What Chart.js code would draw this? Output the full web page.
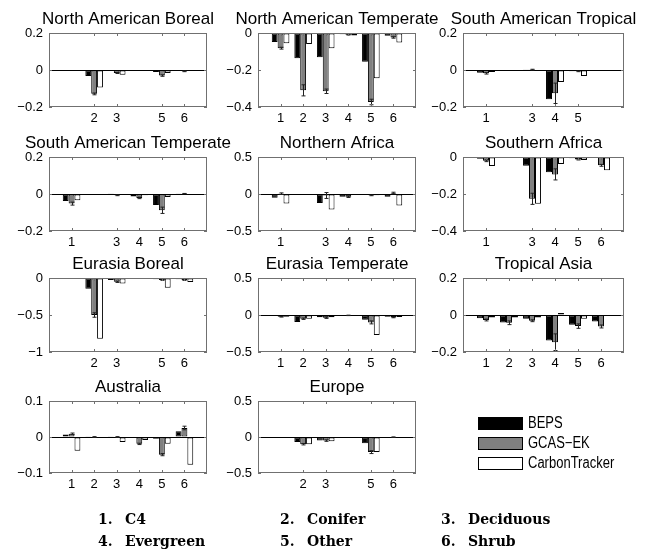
<!DOCTYPE html>
<html lang="en">
<head>
<meta charset="UTF-8">
<title>Regional flux by plant functional type</title>
<script src="https://cdn.jsdelivr.net/npm/chart.js"></script>
<style>
  body {
    margin: 0;
    width: 651px;
    height: 551px;
    overflow: hidden;
    position: relative;
    background: #fff;
    font-family: 'Liberation Sans', Arial, sans-serif;
  }
  canvas { position: absolute; }
  .leg {
    position: absolute;
    font-size: 13px;
    line-height: 14px;
    color: #000;
    transform: scaleY(1.2);
    transform-origin: left center;
  }
  .sw { position: absolute; width: 43px; height: 11px; border: 1px solid #000; }
  .pft {
    position: absolute;
    font-family: 'DejaVu Serif', 'Liberation Serif', serif;
    font-weight: bold;
    font-size: 14px;
    line-height: 16px;
    color: #000;
  }
</style>
</head>
<body>
<script>
  // regions, one panel each
  const regions = ['North American Boreal', 'North American Temperate', 'South American Tropical',
    'South American Temperate', 'Northern Africa', 'Southern Africa',
    'Eurasia Boreal', 'Eurasia Temperate', 'Tropical Asia',
    'Australia', 'Europe'];
  const pftNames = ['C4', 'Conifer', 'Deciduous', 'Evergreen', 'Other', 'Shrub'];
  const seriesNames = ['BEPS', 'GCAS\u2212EK', 'CarbonTracker'];

  // PFT numbers labelled on each panel's x axis
  const shownPft = [[2,3,5,6], [1,2,3,4,5,6], [1,3,4,5], [1,3,4,5,6], [1,3,4,5,6], [1,3,4,5,6],
    [2,3,5,6], [1,2,3,4,5,6], [1,2,3,4,5,6], [1,2,3,4,5,6], [2,3,5,6]];

  // values per region, PFT 1..6 (null = no bar)
  const beps = [
    [null, -0.033, -0.004, null, -0.011, -0.005],
    [-0.049, -0.136, -0.131, -0.007, -0.155, -0.015],
    [-0.015, null, 0.004, -0.158, -0.007, null],
    [-0.038, null, 0.002, -0.014, -0.060, 0.002],
    [-0.050, null, -0.120, -0.037, -0.014, -0.037],
    [-0.009, null, -0.047, -0.083, -0.007, -0.004],
    [null, -0.145, -0.027, null, -0.018, -0.018],
    [-0.014, -0.095, -0.032, -0.005, -0.064, -0.023],
    [-0.018, -0.040, -0.020, -0.138, -0.053, -0.035],
    [0.007, 0.001, 0.002, -0.003, -0.005, 0.016],
    [null, -0.069, -0.050, null, -0.087, -0.001]
  ];
  const gcasEk = [
    [null, -0.129, -0.016, null, -0.030, -0.007],
    [-0.082, -0.310, -0.315, -0.009, -0.373, -0.024],
    [-0.018, null, 0.002, -0.126, -0.007, null],
    [-0.052, null, -0.007, -0.021, -0.088, 0.002],
    [0.005, null, -0.020, -0.037, -0.018, 0.014],
    [-0.020, null, -0.226, -0.094, -0.013, -0.045],
    [null, -0.500, -0.050, null, -0.027, -0.027],
    [-0.023, -0.050, -0.036, -0.005, -0.100, -0.032],
    [-0.027, -0.042, -0.031, -0.147, -0.060, -0.062],
    [0.009, 0.000, 0.000, -0.019, -0.049, 0.025],
    [null, -0.100, -0.050, null, -0.210, -0.002]
  ];
  const gcasEkErr = [
    [null, 0.005, 0.003, null, 0.004, 0.002],
    [0.005, 0.030, 0.012, 0.002, 0.015, 0.004],
    [0.004, null, 0.002, 0.055, 0.002, null],
    [0.008, null, 0.002, 0.004, 0.017, 0.001],
    [0.010, null, 0.040, 0.010, 0.005, 0.010],
    [0.005, null, 0.030, 0.030, 0.003, 0.005],
    [null, 0.030, 0.010, null, 0.005, 0.005],
    [0.005, 0.010, 0.010, 0.003, 0.020, 0.005],
    [0.005, 0.010, 0.005, 0.045, 0.012, 0.008],
    [0.002, 0.001, 0.001, 0.002, 0.003, 0.005],
    [null, 0.010, 0.010, null, 0.020, 0.003]
  ];
  const carbonTracker = [
    [null, -0.095, -0.025, null, -0.016, -0.004],
    [-0.055, -0.060, -0.082, -0.013, -0.245, -0.051],
    [-0.011, null, 0.000, -0.065, -0.033, null],
    [-0.034, null, -0.002, -0.007, -0.016, 0.000],
    [-0.130, null, -0.210, -0.009, -0.018, -0.157],
    [-0.049, null, -0.253, -0.038, -0.016, -0.072],
    [null, -0.820, -0.073, null, -0.132, -0.055],
    [-0.023, -0.050, -0.032, -0.005, -0.270, -0.027],
    [-0.013, -0.013, -0.013, 0.011, -0.020, -0.004],
    [-0.038, 0.000, -0.014, -0.008, -0.019, -0.077],
    [null, -0.100, -0.060, null, -0.210, -0.002]
  ];

  // y axis ticks per panel (first and last are the limits)
  const yTicks = [
    [-0.2, 0, 0.2], [-0.4, -0.2, 0], [-0.2, 0, 0.2],
    [-0.2, 0, 0.2], [-0.5, 0, 0.5], [-0.4, -0.2, 0],
    [-1, -0.5, 0], [-0.5, 0, 0.5], [-0.2, 0, 0.2],
    [-0.1, 0, 0.1], [-0.5, 0, 0.5]
  ];

  // panel grid (plot area boxes)
  const colLeft = [49, 258, 463];
  const colWidth = [158, 158, 161];
  const rowTop = [33, 157, 278, 401];
  const rowHeight = [74, 74, 74, 72];
  const AXW = 45, TITLEH = 30, XAXH = 22;

  const fillColors = ['#000000', '#808080', '#ffffff'];
  const fontFamily = "'Liberation Sans', Arial, sans-serif";

  const fmt = v => String(v).replace('-', '\u2212');

  // box, inward ticks and GCAS-EK error bars
  const matlabBox = {
    id: 'matlabBox',
    afterDatasetsDraw(chart) {
      const { ctx, chartArea: a, scales: { x, y } } = chart;
      ctx.save();
      ctx.lineWidth = 1;

      ctx.strokeStyle = '#222';
      const meta = chart.getDatasetMeta(1);
      const pts = chart.data.datasets[1].data;
      meta.data.forEach((el, j) => {
        const p = pts[j];
        if (!p.err) return;
        const cx = Math.round(el.x) + 0.5;
        const y1 = y.getPixelForValue(p.y - p.err);
        const y2 = y.getPixelForValue(p.y + p.err);
        ctx.beginPath();
        ctx.moveTo(cx, y1); ctx.lineTo(cx, y2);
        ctx.moveTo(cx - 2, y1); ctx.lineTo(cx + 2, y1);
        ctx.moveTo(cx - 2, y2); ctx.lineTo(cx + 2, y2);
        ctx.stroke();
      });

      ctx.strokeStyle = '#707070';
      ctx.strokeRect(a.left + 0.5, a.top + 0.5, a.width - 1, a.height - 1);
      ctx.beginPath();
      x.ticks.forEach(t => {
        const px = Math.round(x.getPixelForValue(t.value)) + 0.5;
        ctx.moveTo(px, a.bottom); ctx.lineTo(px, a.bottom - 3);
        ctx.moveTo(px, a.top); ctx.lineTo(px, a.top + 3);
      });
      y.ticks.forEach(t => {
        const py = Math.round(y.getPixelForValue(t.value)) + 0.5;
        ctx.moveTo(a.left, py); ctx.lineTo(a.left + 3, py);
        ctx.moveTo(a.right, py); ctx.lineTo(a.right - 3, py);
      });
      ctx.stroke();
      ctx.restore();
    }
  };

  function toPoints(values, errs) {
    const out = [];
    values.forEach((v, k) => {
      if (v === null) return;
      out.push({ x: k + 1, y: v, err: errs ? errs[k] : 0 });
    });
    return out;
  }

  regions.forEach((name, i) => {
    const col = i % 3, row = Math.floor(i / 3);
    const pw = colWidth[col], ph = rowHeight[row];
    const cv = document.createElement('canvas');
    cv.width = pw + 2 * AXW;
    cv.height = ph + TITLEH + XAXH;
    cv.style.left = (colLeft[col] - AXW) + 'px';
    cv.style.top = (rowTop[row] - TITLEH) + 'px';
    document.body.appendChild(cv);

    const ticksY = yTicks[i];
    new Chart(cv, {
      type: 'bar',
      data: {
        datasets: [beps[i], gcasEk[i], carbonTracker[i]].map((vals, s) => ({
          label: seriesNames[s],
          data: toPoints(vals, s === 1 ? gcasEkErr[i] : null),
          backgroundColor: fillColors[s],
          borderColor: '#000',
          borderWidth: 1,
          borderSkipped: false
        }))
      },
      options: {
        responsive: false,
        animation: false,
        events: [],
        layout: { padding: 0 },
        datasets: { bar: { barPercentage: 1, categoryPercentage: 0.78 } },
        plugins: {
          legend: { display: false },
          tooltip: { enabled: false },
          title: {
            display: true,
            text: name,
            color: '#000',
            font: { family: fontFamily, size: 17, weight: 'normal', lineHeight: '20px' },
            padding: { top: 6, bottom: 4 }
          }
        },
        scales: {
          x: {
            type: 'linear',
            offset: false,
            min: 0,
            max: 7,
            grid: { display: false, drawTicks: false },
            border: { display: false },
            afterBuildTicks: s => { s.ticks = shownPft[i].map(v => ({ value: v })); },
            afterFit: s => { s.height = XAXH; },
            ticks: {
              color: '#000',
              padding: 4,
              maxRotation: 0,
              font: { family: fontFamily, size: 13 }
            }
          },
          y: {
            min: ticksY[0],
            max: ticksY[ticksY.length - 1],
            afterBuildTicks: s => { s.ticks = ticksY.map(v => ({ value: v })); },
            afterFit: s => { s.width = AXW; },
            border: { display: false },
            grid: {
              drawTicks: false,
              lineWidth: 1,
              color: c => (c.tick && c.tick.value === 0) ? '#000' : 'rgba(0,0,0,0)'
            },
            ticks: {
              color: '#000',
              padding: 6,
              font: { family: fontFamily, size: 13 },
              callback: v => fmt(v)
            }
          },
          yRight: {
            type: 'linear',
            position: 'right',
            grid: { display: false, drawTicks: false },
            border: { display: false },
            ticks: { display: false },
            afterFit: s => { s.width = AXW; }
          }
        }
      },
      plugins: [matlabBox]
    });
  });

  // legend
  seriesNames.forEach((s, k) => {
    const sw = document.createElement('div');
    sw.className = 'sw';
    sw.style.left = '478px';
    sw.style.top = (417 + k * 20) + 'px';
    sw.style.background = fillColors[k];
    document.body.appendChild(sw);
    const t = document.createElement('div');
    t.className = 'leg';
    t.style.left = '528px';
    t.style.top = (416 + k * 20) + 'px';
    t.textContent = s;
    document.body.appendChild(t);
  });

  // PFT key under the panels
  const keyX = [98, 280, 441];
  pftNames.forEach((p, k) => {
    const col = k % 3, row = Math.floor(k / 3);
    const top = 511 + row * 22;
    const num = document.createElement('div');
    num.className = 'pft';
    num.style.left = keyX[col] + 'px';
    num.style.top = top + 'px';
    num.textContent = (k + 1) + '.';
    document.body.appendChild(num);
    const lab = document.createElement('div');
    lab.className = 'pft';
    lab.style.left = (keyX[col] + 27) + 'px';
    lab.style.top = top + 'px';
    lab.textContent = p;
    document.body.appendChild(lab);
  });
</script>
</body>
</html>
